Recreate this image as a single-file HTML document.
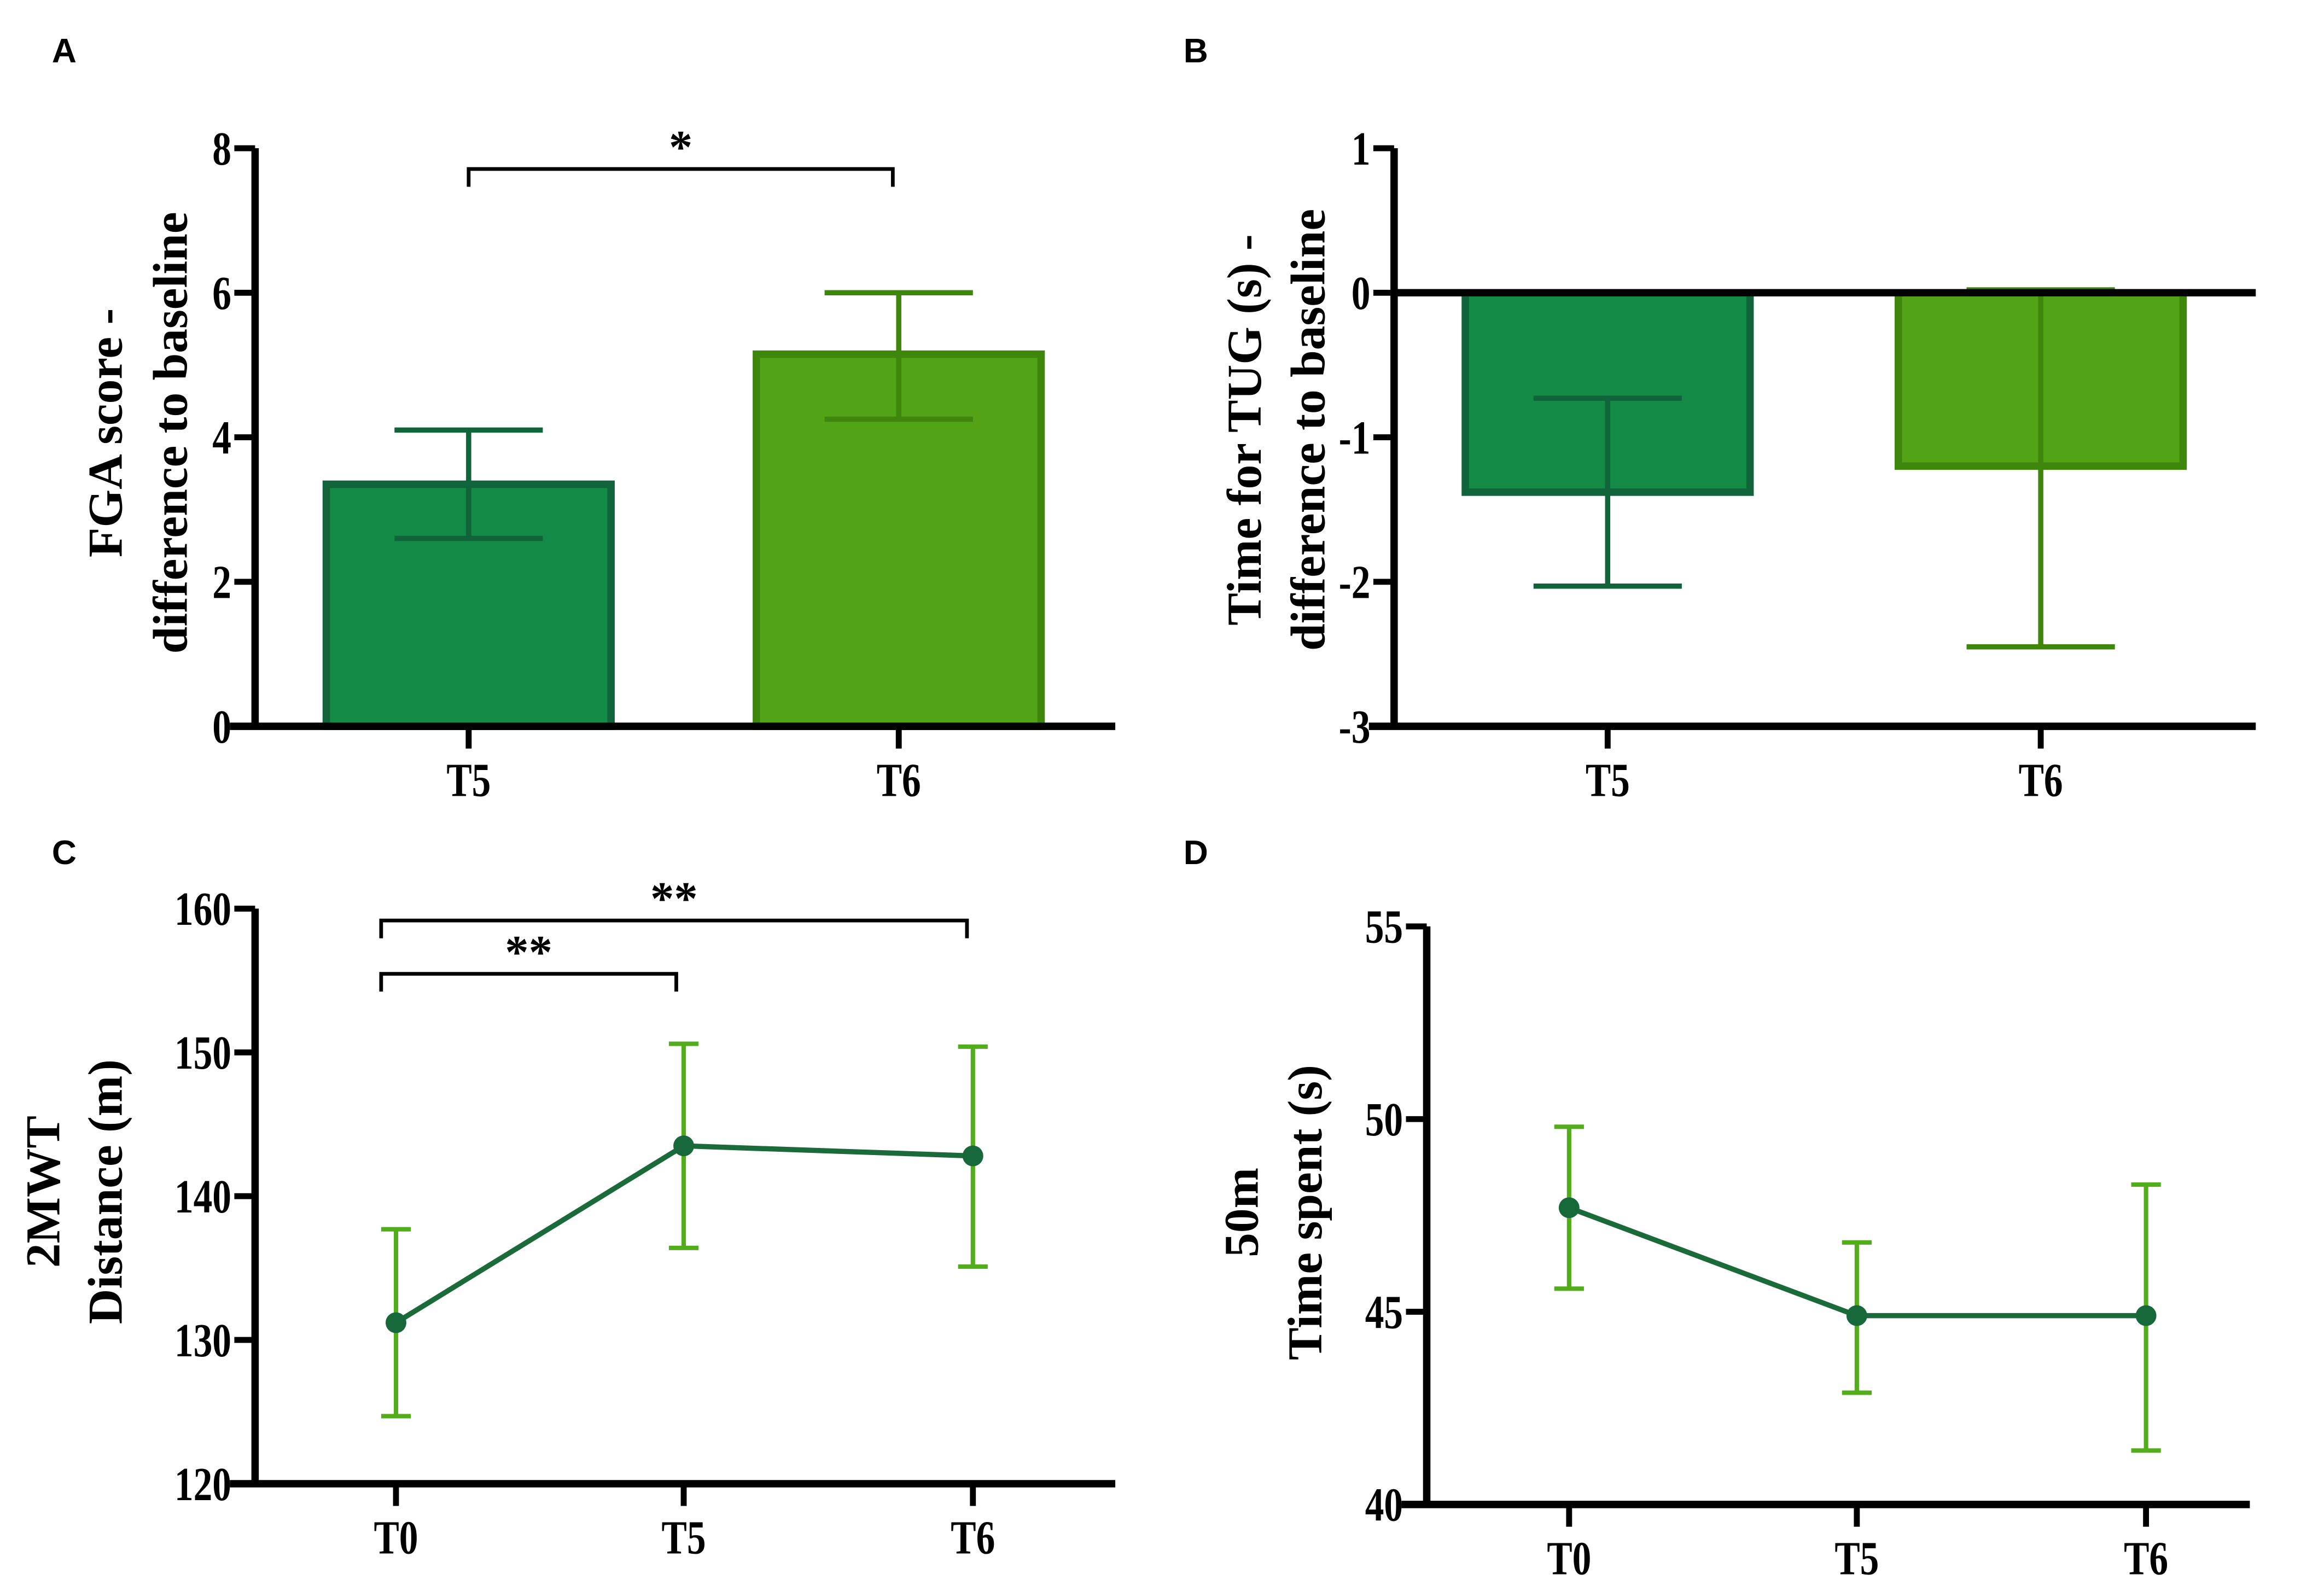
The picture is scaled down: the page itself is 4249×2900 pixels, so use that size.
<!DOCTYPE html>
<html><head><meta charset="utf-8"><style>
html,body{margin:0;padding:0;background:#fff;}
svg{display:block;}
text{font-family:"Liberation Serif",serif;font-weight:bold;fill:#000;}
.lbl{font-family:"Liberation Sans",sans-serif;font-weight:bold;font-size:23px;}
.tick{font-size:32px;}
.ttl{font-size:33px;}
</style></head><body>
<svg id="fig" width="4249" height="2900" viewBox="0 0 1567 1070" preserveAspectRatio="none" xmlns="http://www.w3.org/2000/svg"></svg>
<script>
// Panel A data
const aCats = ['T5','T6'];
const aVals = [3.35, 5.15];
const aLo = [2.6, 4.25];
const aHi = [4.1, 6.0];
const aTicks = [0,2,4,6,8];
// Panel B data
const bCats = ['T5','T6'];
const bVals = [-1.38, -1.2];
const bLo = [-2.03, -2.45];
const bHi = [-0.73, 0.02];
const bTicks = [-3,-2,-1,0,1];
// Panel C data
const cCats = ['T0','T5','T6'];
const cVals = [131.2, 143.5, 142.8];
const cLo = [124.7, 136.4, 135.1];
const cHi = [137.7, 150.6, 150.4];
const cTicks = [120,130,140,150,160];
// Panel D data
const dCats = ['T0','T5','T6'];
const dVals = [47.7, 44.9, 44.9];
const dLo = [45.6, 42.9, 41.4];
const dHi = [49.8, 46.8, 48.3];
const dTicks = [40,45,50,55];

const svg = document.getElementById('fig');
const NS = 'http://www.w3.org/2000/svg';
function mk(tag, attrs, parent){
  const e = document.createElementNS(NS, tag);
  for (const k in attrs) e.setAttribute(k, attrs[k]);
  (parent||svg).appendChild(e);
  return e;
}
function txt(s, x, y, cls, anchor, parent){
  const t = mk('text', {x:x, y:y, class:cls, 'text-anchor':anchor||'middle'}, parent);
  t.textContent = s;
  return t;
}
function ctxt(s, x, y, anchor, parent){
  const t = mk('text', {x:0, y:0, class:'tick', 'text-anchor':anchor, transform:'translate('+x+','+y+') scale(0.8,1)'}, parent);
  t.textContent = s;
  return t;
}
function scale(d0,d1,r0,r1){ return v => r0 + (v-d0)/(d1-d0)*(r1-r0); }

function axes(g, ax, yTop, yBot, xEnd, ticks, y, xs, cats, xAxisY){
  const yAxis = mk('line',{x1:ax,y1:yTop,x2:ax,y2:yBot,stroke:'#000','stroke-width':5},g);
  
  
  ticks.forEach(t=>{
    const tk = mk('line',{x1:ax-14,y1:y(t),x2:ax,y2:y(t),stroke:'#000','stroke-width':4},g);
    
    
    const tl = ctxt(String(t), ax-16, y(t)+11, 'end', g);
    
    
  });
  const xAxis = mk('line',{x1:ax-17,y1:xAxisY,x2:xEnd,y2:xAxisY,stroke:'#000','stroke-width':5},g);
  
  
  cats.forEach((c,i)=>{
    const tk = mk('line',{x1:xs[i],y1:xAxisY,x2:xs[i],y2:xAxisY+15,stroke:'#000','stroke-width':4},g);
    
    
    const tl = ctxt(c, xs[i], xAxisY+47, 'middle', g);
    
    
  });
}
function ylabel(g, lines, xs, cy){
  lines.forEach((s,i)=>{
    const t = txt(s, 0, 0, 'ttl', 'middle', g);
    t.setAttribute('transform','translate('+xs[i]+','+cy+') rotate(-90)');
    
    
  });
}
function letter(s,x,y){
  const t = txt(s,x,y,'lbl','start');
  
  
}
const fills=['#138a45','#52a315'], strokes=['#11633a','#3f860c'];

function barPanel(name, cats, vals, lo, hi, ticks, ax, yTop, yBot, xs, xEnd, zeroLine){
  const g = mk('g',{});
  
  
  const y = scale(ticks[0], ticks[ticks.length-1], yBot, yTop);
  const y0 = y(0);
  cats.forEach((c,i)=>{
    const top = Math.min(y(vals[i]), y0), h = Math.abs(y(vals[i])-y0);
    const r = mk('rect',{x:xs[i]-96,y:top,width:192,height:h,fill:fills[i],stroke:strokes[i],'stroke-width':5},g);
    
    
    const e = mk('path',{d:'M'+xs[i]+','+y(lo[i])+'V'+y(hi[i])+'M'+(xs[i]-50)+','+y(lo[i])+'H'+(xs[i]+50)+'M'+(xs[i]-50)+','+y(hi[i])+'H'+(xs[i]+50),stroke:strokes[i],'stroke-width':3.5,fill:'none'},g);
    
    
  });
  axes(g, ax, yTop, yBot, xEnd, ticks, y, xs, cats, yBot);
  if (zeroLine){
    const z = mk('line',{x1:ax,y1:y0,x2:xEnd,y2:y0,stroke:'#000','stroke-width':5},g);
    
    
  }
  return g;
}
function linePanel(name, cats, vals, lo, hi, ticks, ax, yTop, yBot, xs, xEnd){
  const g = mk('g',{});
  
  
  const y = scale(ticks[0], ticks[ticks.length-1], yBot, yTop);
  axes(g, ax, yTop, yBot, xEnd, ticks, y, xs, cats, yBot);
  cats.forEach((c,i)=>{
    const e = mk('path',{d:'M'+xs[i]+','+y(lo[i])+'V'+y(hi[i])+'M'+(xs[i]-10)+','+y(lo[i])+'H'+(xs[i]+10)+'M'+(xs[i]-10)+','+y(hi[i])+'H'+(xs[i]+10),stroke:'#52ad1a','stroke-width':3,fill:'none'},g);
    
    
  });
  const ln = mk('polyline',{points:cats.map((c,i)=>xs[i]+','+y(vals[i])).join(' '),stroke:'#1a6a3a','stroke-width':3.5,fill:'none'},g);
  
  
  cats.forEach((c,i)=>{
    const p = mk('circle',{cx:xs[i],cy:y(vals[i]),r:7,fill:'#17683a'},g);
    
    
  });
  return g;
}
function bracket(g, x1, x2, yy, label){
  const b = mk('path',{d:'M'+x1+','+(yy+12)+'V'+yy+'H'+x2+'V'+(yy+12),stroke:'#000','stroke-width':2.5,fill:'none'},g);
  
  
  const t = txt(label,(x1+x2)/2,yy-4,'tick','middle',g);
  t.setAttribute('font-size','22');
  
  
}

letter('A',35,42); letter('B',798,42); letter('C',35,583); letter('D',798,583);

const gA = barPanel('panel-a-fga', aCats, aVals, aLo, aHi, aTicks, 172, 100, 490, [316,606], 752, false);
ylabel(gA, ['FGA score -','difference to baseline'], [82,126], 292);
bracket(gA, 316, 602, 114, '*');

const gB = barPanel('panel-b-tug', bCats, bVals, bLo, bHi, bTicks, 940, 100, 490, [1084,1376], 1521, true);
ylabel(gB, ['Time for TUG (s) -','difference to baseline'], [850,893], 290);

const gC = linePanel('panel-c-2mwt', cCats, cVals, cLo, cHi, cTicks, 172, 613, 1001, [267,461,656], 752);
ylabel(gC, ['2MWT','Distance (m)'], [40,82], 804);
bracket(gC, 257, 456, 657, '**');
bracket(gC, 257, 652, 621, '**');

const gD = linePanel('panel-d-50m', dCats, dVals, dLo, dHi, dTicks, 962, 625, 1015, [1058,1252,1447], 1517);
ylabel(gD, ['50m','Time spent (s)'], [848,891], 818);
</script>
</body></html>
